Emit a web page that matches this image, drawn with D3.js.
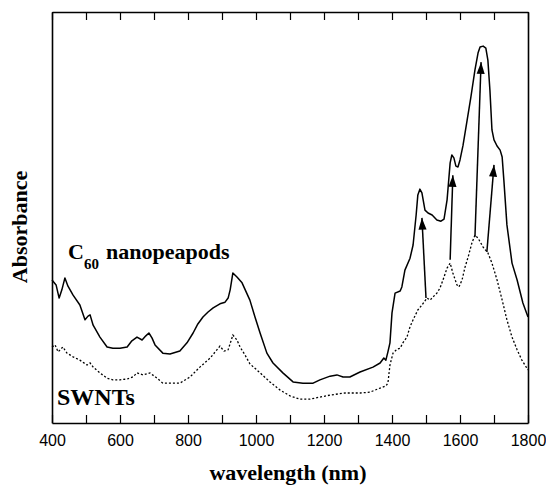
<!DOCTYPE html>
<html>
<head>
<meta charset="utf-8">
<script src="https://cdn.jsdelivr.net/npm/d3@7"></script>
<style>
  body { margin: 0; background: #fff; }
  svg { display: block; }
</style>
</head>
<body>
<script>
// wavelength (nm) for the peapod spectrum, and absorbance (arbitrary units)
var peapodNm = [400, 412, 421, 429, 438, 447, 462, 482, 497, 506, 512, 521, 541, 562, 579, 600,
  621, 635, 650, 665, 676, 685, 694, 703, 726, 747, 776, 797, 815, 829, 844, 859, 874, 894, 909,
  918, 924, 932, 944, 959, 982, 997, 1012, 1032, 1050, 1079, 1109, 1138, 1168, 1188, 1218, 1238,
  1256, 1276, 1306, 1344, 1365, 1376, 1382, 1388, 1394, 1400, 1409, 1424, 1429, 1438, 1453, 1462,
  1471, 1476, 1482, 1488, 1497, 1506, 1518, 1532, 1544, 1553, 1562, 1571, 1576, 1582, 1588, 1594,
  1600, 1609, 1621, 1632, 1644, 1653, 1659, 1668, 1676, 1682, 1688, 1694, 1700, 1709, 1718, 1724,
  1729, 1738, 1753, 1768, 1785, 1800];
var peapodAbs = [34.8, 33.6, 30.4, 32.4, 35.3, 33.3, 31.1, 28.7, 25.1, 26.0, 26.3, 23.8, 20.9, 18.5,
  18.2, 18.2, 18.5, 20.0, 20.9, 20.2, 21.2, 21.9, 20.7, 19.0, 17.0, 16.8, 17.5, 19.5, 21.9, 24.1,
  25.8, 27.0, 28.0, 29.0, 29.4, 30.4, 32.4, 36.5, 35.5, 34.1, 29.9, 25.8, 21.9, 17.0, 14.6, 12.2,
  10.0, 9.7, 9.7, 10.5, 11.4, 11.7, 11.2, 11.2, 12.4, 13.6, 14.6, 15.8, 15.3, 17.3, 19.5, 26.8,
  31.6, 32.1, 33.1, 37.2, 40.1, 43.3, 50.6, 55.5, 56.9, 56.0, 51.8, 51.1, 50.6, 49.4, 49.1, 49.6,
  54.3, 63.3, 65.2, 64.5, 62.5, 62.3, 64.0, 67.6, 73.7, 79.3, 85.9, 90.0, 91.5, 91.7, 91.2, 88.3,
  81.0, 71.3, 68.9, 67.4, 66.4, 64.7, 59.1, 48.2, 38.9, 34.8, 29.2, 25.8];

// empty SWNT spectrum
var swntNm = [400, 409, 418, 432, 444, 462, 482, 503, 512, 521, 541, 562, 579, 600, 621, 638, 650,
  668, 688, 709, 726, 747, 776, 806, 835, 865, 882, 894, 906, 918, 932, 944, 953, 968, 982, 1012,
  1041, 1071, 1100, 1129, 1159, 1188, 1218, 1262, 1306, 1335, 1365, 1382, 1388, 1394, 1403, 1415,
  1424, 1432, 1444, 1453, 1462, 1476, 1488, 1503, 1512, 1521, 1532, 1541, 1550, 1562, 1571, 1579,
  1591, 1597, 1606, 1615, 1624, 1635, 1644, 1653, 1668, 1682, 1694, 1709, 1724, 1738, 1753, 1768,
  1782, 1800];
var swntAbs = [18.5, 19.0, 17.3, 18.5, 17.0, 16.1, 15.3, 14.1, 14.6, 13.6, 12.2, 10.9, 10.5, 10.5,
  10.7, 11.2, 12.2, 11.7, 12.2, 10.9, 9.7, 9.7, 9.7, 11.2, 13.6, 15.8, 17.5, 18.7, 17.5, 17.8, 21.4,
  20.2, 18.5, 16.5, 14.4, 12.2, 10.0, 8.0, 6.6, 5.8, 5.8, 6.3, 6.8, 7.3, 7.3, 7.5, 8.5, 9.0, 9.7,
  14.1, 17.0, 18.0, 18.2, 19.5, 20.9, 23.4, 25.1, 27.5, 28.7, 30.4, 29.9, 30.7, 31.6, 32.8, 34.8,
  37.7, 38.9, 36.5, 33.6, 33.1, 34.8, 38.0, 40.4, 43.8, 45.7, 45.0, 42.8, 41.4, 38.9, 34.8, 29.9,
  25.1, 20.9, 17.8, 15.3, 12.9];

// arrows from the SWNT bands up to the shifted peapod bands
var arrowFromNm = [1500, 1571, 1644, 1679];
var arrowFromAbs = [30.4, 39.7, 45.3, 41.6];
var arrowToNm = [1488, 1579, 1662, 1700];
var arrowToAbs = [49.9, 60.3, 87.8, 62.8];

var tickValues = [400, 500, 600, 700, 800, 900, 1000, 1100, 1200, 1300, 1400, 1500, 1600, 1700, 1800];

var width = 546, height = 485;
var margin = {top: 12, right: 18, bottom: 62, left: 52};

var svg = d3.select("body").append("svg")
  .attr("width", width)
  .attr("height", height);

var x = d3.scaleLinear().domain([400, 1800]).range([margin.left, width - margin.right]);
var y = d3.scaleLinear().domain([0, 100]).range([height - margin.bottom, margin.top]);

// frame: bottom and top axes with inward ticks, plain sides
var bottom = svg.append("g")
  .attr("transform", "translate(0," + (height - margin.bottom) + ")")
  .call(d3.axisBottom(x)
    .tickValues(tickValues)
    .tickSizeInner(-8)
    .tickSizeOuter(0)
    .tickPadding(12)
    .tickFormat(function(d) { return d % 200 === 0 ? d : ""; }));

svg.append("g")
  .attr("transform", "translate(0," + margin.top + ")")
  .call(d3.axisTop(x)
    .tickValues(tickValues)
    .tickSizeInner(-8)
    .tickSizeOuter(0)
    .tickFormat(""));

svg.append("g")
  .attr("transform", "translate(" + margin.left + ",0)")
  .call(d3.axisLeft(y).tickValues([]).tickSizeOuter(0));
svg.append("g")
  .attr("transform", "translate(" + (width - margin.right) + ",0)")
  .call(d3.axisRight(y).tickValues([]).tickSizeOuter(0));

svg.selectAll(".domain, .tick line")
  .attr("stroke", "#000")
  .attr("stroke-width", 1.6);
svg.selectAll(".tick line").attr("stroke-width", 1.2);
bottom.selectAll(".tick text")
  .attr("font-family", "'Liberation Sans', Arial, sans-serif")
  .attr("font-size", 16)
  .attr("fill", "#000");

var line = d3.line()
  .x(function(d) { return x(d[0]); })
  .y(function(d) { return y(d[1]); });

svg.append("path")
  .datum(d3.zip(swntNm, swntAbs))
  .attr("fill", "none")
  .attr("stroke", "#000")
  .attr("stroke-width", 1.3)
  .attr("stroke-dasharray", "2,2")
  .attr("d", line);

svg.append("path")
  .datum(d3.zip(peapodNm, peapodAbs))
  .attr("fill", "none")
  .attr("stroke", "#000")
  .attr("stroke-width", 1.5)
  .attr("stroke-linejoin", "round")
  .attr("d", line);

// arrowhead marker
svg.append("defs").append("marker")
  .attr("id", "head")
  .attr("viewBox", "0 -5 13 10")
  .attr("refX", 13)
  .attr("refY", 0)
  .attr("markerUnits", "userSpaceOnUse")
  .attr("markerWidth", 13)
  .attr("markerHeight", 9)
  .attr("orient", "auto")
  .append("path")
  .attr("d", "M0,-4.5L13,0L0,4.5Z")
  .attr("fill", "#000");

svg.selectAll(".arrow")
  .data(d3.range(arrowFromNm.length))
  .enter().append("line")
  .attr("class", "arrow")
  .attr("x1", function(i) { return x(arrowFromNm[i]); })
  .attr("y1", function(i) { return y(arrowFromAbs[i]); })
  .attr("x2", function(i) { return x(arrowToNm[i]); })
  .attr("y2", function(i) { return y(arrowToAbs[i]); })
  .attr("stroke", "#000")
  .attr("stroke-width", 1.5)
  .attr("marker-end", "url(#head)");

// labels
var serif = "'Liberation Serif', 'Times New Roman', serif";

var c60 = svg.append("text")
  .attr("x", 68)
  .attr("y", 259)
  .attr("font-family", serif)
  .attr("font-weight", "bold")
  .attr("font-size", 22)
  .attr("fill", "#000");
c60.append("tspan").text("C");
c60.append("tspan").attr("font-size", 15).attr("dy", 10).text("60");
c60.append("tspan").attr("x", 106).attr("y", 259).text("nanopeapods");

svg.append("text")
  .attr("x", 57)
  .attr("y", 405)
  .attr("font-family", serif)
  .attr("font-weight", "bold")
  .attr("font-size", 24)
  .attr("fill", "#000")
  .text("SWNTs");

svg.append("text")
  .attr("x", (margin.left + width - margin.right) / 2 - 2)
  .attr("y", 480)
  .attr("text-anchor", "middle")
  .attr("font-family", serif)
  .attr("font-weight", "bold")
  .attr("font-size", 22)
  .attr("fill", "#000")
  .text("wavelength (nm)");

svg.append("text")
  .attr("transform", "translate(27,227) rotate(-90)")
  .attr("text-anchor", "middle")
  .attr("font-family", serif)
  .attr("font-weight", "bold")
  .attr("font-size", 22)
  .attr("fill", "#000")
  .text("Absorbance");
</script>
</body>
</html>
